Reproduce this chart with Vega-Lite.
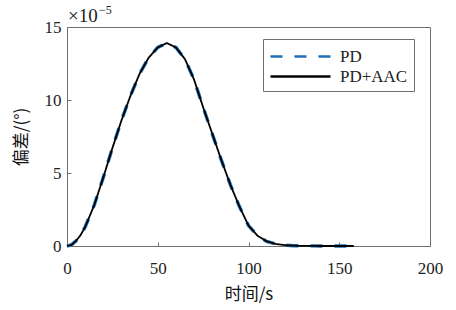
{
  "$schema": "https://vega.github.io/schema/vega-lite/v6.json",
  "width": 363,
  "height": 219,
  "autosize": "none",
  "padding": {"left": 67, "top": 27, "right": 26, "bottom": 64},
  "background": "white",
  "config": {
    "view": {"stroke": "#707070", "strokeWidth": 1},
    "font": "Liberation Serif"
  },
  "data": {
    "values": [
      {"t": 0, "PD": 0, "AAC": 0},
      {"t": 2.5, "PD": 0.08, "AAC": 0.08},
      {"t": 5, "PD": 0.35, "AAC": 0.35},
      {"t": 7.5, "PD": 0.75, "AAC": 0.75},
      {"t": 10, "PD": 1.3, "AAC": 1.3},
      {"t": 15, "PD": 2.8, "AAC": 2.8},
      {"t": 20, "PD": 4.7, "AAC": 4.7},
      {"t": 25, "PD": 6.7, "AAC": 6.7},
      {"t": 30, "PD": 8.6, "AAC": 8.6},
      {"t": 35, "PD": 10.3, "AAC": 10.3},
      {"t": 40, "PD": 11.8, "AAC": 11.8},
      {"t": 45, "PD": 12.9, "AAC": 12.9},
      {"t": 50, "PD": 13.6, "AAC": 13.6},
      {"t": 55, "PD": 13.9, "AAC": 13.9},
      {"t": 60, "PD": 13.6, "AAC": 13.6},
      {"t": 65, "PD": 12.8, "AAC": 12.8},
      {"t": 70, "PD": 11.4, "AAC": 11.4},
      {"t": 75, "PD": 9.5, "AAC": 9.5},
      {"t": 80, "PD": 7.7, "AAC": 7.7},
      {"t": 85, "PD": 5.9, "AAC": 5.9},
      {"t": 90, "PD": 4.2, "AAC": 4.2},
      {"t": 95, "PD": 2.7, "AAC": 2.7},
      {"t": 100, "PD": 1.4, "AAC": 1.4},
      {"t": 105, "PD": 0.7, "AAC": 0.7},
      {"t": 110, "PD": 0.32, "AAC": 0.32},
      {"t": 115, "PD": 0.14, "AAC": 0.14},
      {"t": 120, "PD": 0.06, "AAC": 0.06},
      {"t": 125, "PD": 0.02, "AAC": 0.02},
      {"t": 130, "PD": 0.01, "AAC": 0.01},
      {"t": 140, "PD": 0, "AAC": 0},
      {"t": 150, "PD": 0, "AAC": 0},
      {"t": 158, "PD": 0, "AAC": 0}
    ]
  },
  "encoding": {
    "x": {
      "field": "t",
      "type": "quantitative",
      "scale": {"domain": [0, 200], "nice": false, "zero": false},
      "axis": {
        "title": "时间/s",
        "titleFont": "Noto Sans CJK SC",
        "titleFontSize": 17,
        "titleFontWeight": "normal",
        "titleColor": "#111111",
        "titlePadding": 10,
        "values": [0, 50, 100, 150, 200],
        "grid": false,
        "domain": false,
        "tickSize": -4,
        "tickColor": "#707070",
        "labelPadding": 18,
        "labelFont": "Liberation Serif",
        "labelFontSize": 17,
        "labelColor": "#222222",
        "labelFlush": false
      }
    }
  },
  "layer": [
    {
      "mark": {"type": "line", "strokeCap": "butt", "strokeWidth": 3.4},
      "encoding": {
        "y": {
          "field": "PD",
          "type": "quantitative",
          "scale": {"domain": [0, 15], "nice": false},
          "axis": {
            "title": "偏差/(°)",
            "titleFont": "Noto Sans CJK SC",
            "titleFontSize": 17,
            "titleFontWeight": "normal",
            "titleColor": "#111111",
            "titlePadding": 14,
            "values": [0, 5, 10, 15],
            "grid": false,
            "domain": false,
            "tickSize": -4,
            "tickColor": "#707070",
            "labelPadding": 10,
            "labelFont": "Liberation Serif",
            "labelFontSize": 17,
            "labelColor": "#222222",
            "labelFlush": false
          }
        },
        "color": {
          "datum": "PD",
          "type": "nominal",
          "scale": {"domain": ["PD", "PD+AAC"], "range": ["#1f6fb4", "#000000"]},
          "legend": {
            "title": null,
            "orient": "none",
            "legendX": 196,
            "legendY": 12,
            "symbolType": "M-1,0H5",
            "symbolSize": 400,
            "symbolStrokeWidth": 2.5,
            "labelFont": "Liberation Serif",
            "labelFontSize": 17,
            "labelColor": "#222222",
            "rowPadding": -2,
            "strokeColor": "#707070",
            "fillColor": "white",
            "padding": 6,
            "labelOffset": 48
          }
        },
        "strokeDash": {
          "datum": "PD",
          "type": "nominal",
          "scale": {"domain": ["PD", "PD+AAC"], "range": [[12, 12], [1, 0]]}
        }
      }
    },
    {
      "mark": {"type": "line", "strokeWidth": 1.8},
      "encoding": {
        "y": {"field": "AAC", "type": "quantitative"},
        "color": {"datum": "PD+AAC", "type": "nominal"},
        "strokeDash": {"datum": "PD+AAC", "type": "nominal"}
      }
    },
    {
      "transform": [{"filter": "datum.t == 0"}],
      "mark": {"type": "text", "align": "left", "baseline": "bottom", "dy": -1, "dx": 1, "fontSize": 19, "font": "Liberation Serif", "color": "#222222"},
      "encoding": {
        "x": {"datum": 0},
        "y": {"datum": 15},
        "text": {"value": "×10"}
      }
    },
    {
      "transform": [{"filter": "datum.t == 0"}],
      "mark": {"type": "text", "align": "left", "baseline": "bottom", "dy": -10, "dx": 32, "fontSize": 12, "font": "Liberation Serif", "color": "#222222"},
      "encoding": {
        "x": {"datum": 0},
        "y": {"datum": 15},
        "text": {"value": "−5"}
      }
    }
  ]
}
